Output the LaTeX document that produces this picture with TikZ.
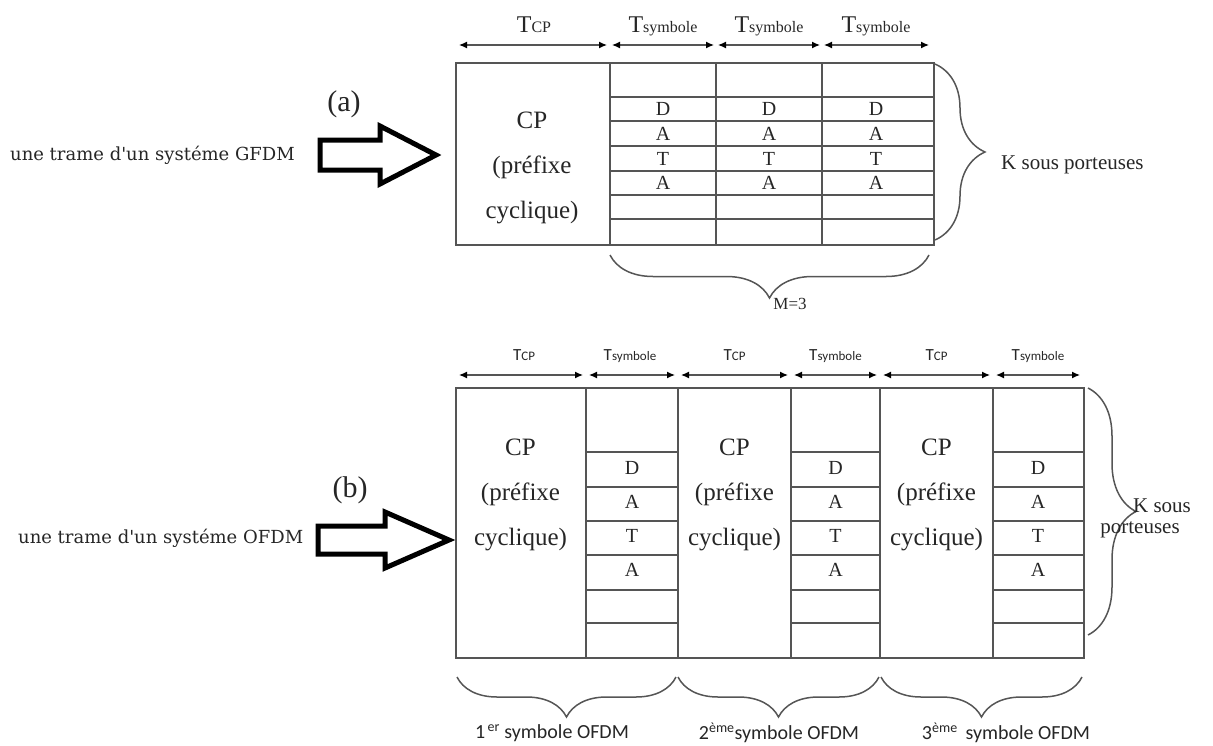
\documentclass[tikz,border=0pt]{standalone}
\usepackage{fontspec}
\setmainfont{Liberation Serif}
\newfontfamily\calfont{Carlito}
\newfontfamily\djfont{DejaVu Serif}
\usetikzlibrary{decorations.pathreplacing,arrows.meta}
\definecolor{ln}{HTML}{555555}
\definecolor{tx}{HTML}{262626}
\newcommand{\fs}[1]{\fontsize{#1}{#1}\selectfont}
\newcommand{\cpfont}{\fontsize{25}{45}\selectfont}
\newcommand{\TsubA}[1]{{\fs{24}T}{\fs{16}#1}}
\newcommand{\TsubB}[1]{{\fs{17}T}{\fs{13}#1}}
\begin{document}
\begin{tikzpicture}[x=1pt,y=-1pt,
  grid/.style={draw=ln, line width=1.6pt},
  dimarrow/.style={draw=ln, line width=1.3pt,
    {Latex[length=8pt,width=7pt,color=black]}-{Latex[length=8pt,width=7pt,color=black]}},
  brc/.style={draw=ln, line width=1.5pt, decorate, decoration={brace, amplitude=#1}},
  blockarrow/.style={draw=black, line width=5pt, line join=miter, fill=white},
  cptext/.style={align=center, text=tx, font=\cpfont, inner sep=0pt},
  letter/.style={text=tx, font=\fs{20}, inner sep=0pt},
  lbl/.style={text=tx, inner sep=0pt},
  every node/.style={text=tx}
]
\useasboundingbox (0,0) rectangle (1213,745);

% ================= (a) GFDM =================
\node[lbl, font=\djfont\fs{18}, anchor=west] (txtA) at (10,155) {une trame d'un systéme GFDM};
\node[lbl, font=\fs{30}] (labA) at (344,104) {(a)};
\draw[blockarrow] (320,140) -- (380,140) -- (380,126) -- (436,155) -- (380,184) -- (380,170) -- (320,170) -- cycle;

\node[grid, anchor=north west, minimum width=478pt, minimum height=182pt, inner sep=0pt] (frameA) at (455,62) {};
\foreach \x in {610,716,822} \draw[grid] (\x,62) -- (\x,244);
\foreach \y in {97,121,146,171,195,219} \draw[grid] (610,\y) -- (933,\y);

\node[cptext] (cpA) at (532,168) {CP\\(préfixe\\cyclique)};

\foreach \cx/\n in {663/1,769/2,876/3}{
  \node[letter] (dA\n) at (\cx,109) {D};
  \node[letter] (aA\n) at (\cx,133.5) {A};
  \node[letter] (tA\n) at (\cx,158.5) {T};
  \node[letter] (bA\n) at (\cx,183) {A};
}

% dimension arrows (a)
\coordinate (a0) at (459,45);
\coordinate (a1l) at (607,45);
\coordinate (a1r) at (612,45);
\coordinate (a2l) at (714,45);
\coordinate (a2r) at (718,45);
\coordinate (a3l) at (820,45);
\coordinate (a3r) at (824,45);
\coordinate (a4) at (929,45);
\draw[dimarrow] (a0) -- (a1l);
\draw[dimarrow] (a1r) -- (a2l);
\draw[dimarrow] (a2r) -- (a3l);
\draw[dimarrow] (a3r) -- (a4);
\node[lbl, anchor=base] (tcpA) at (534,32) {\TsubA{CP}};
\node[lbl, anchor=base] (ts1A) at (663,32) {\TsubA{symbole}};
\node[lbl, anchor=base] (ts2A) at (769,32) {\TsubA{symbole}};
\node[lbl, anchor=base] (ts3A) at (876,32) {\TsubA{symbole}};

% braces (a)
\coordinate (rbA1) at (935,64);
\coordinate (rbA2) at (935,240);
\draw[brc=50] (rbA1) -- (rbA2);
\node[lbl, font=\fs{21}, anchor=west] (kA) at (1001,165) {K sous porteuses};
\coordinate (bbA1) at (929,255);
\coordinate (bbA2) at (610,255);
\draw[brc=43] (bbA1) -- (bbA2);
\node[lbl, font=\fs{17}] (mA) at (790,304) {M=3};

% ================= (b) OFDM =================
\node[lbl, font=\djfont\fs{18}, anchor=west] (txtB) at (18,538) {une trame d'un systéme OFDM};
\node[lbl, font=\fs{30}] (labB) at (350,490) {(b)};
\draw[blockarrow] (318,526) -- (385,526) -- (385,512) -- (449,540) -- (385,568) -- (385,554) -- (318,554) -- cycle;

\node[grid, anchor=north west, minimum width=628pt, minimum height=270pt, inner sep=0pt] (frameB) at (455,387) {};
\foreach \x in {586,678,791,880,993} \draw[grid] (\x,387) -- (\x,657);
\foreach \xa/\xb in {586/678,791/880,993/1083}{
  \foreach \y in {452,487,521,555,590,623} \draw[grid] (\xa,\y) -- (\xb,\y);
}
\node[cptext] (cpB1) at (520.5,495) {CP\\(préfixe\\cyclique)};
\node[cptext] (cpB2) at (734.5,495) {CP\\(préfixe\\cyclique)};
\node[cptext] (cpB3) at (936.5,495) {CP\\(préfixe\\cyclique)};

\foreach \cx/\n in {632/1,835.5/2,1038/3}{
  \node[letter] (dB\n) at (\cx,468) {D};
  \node[letter] (aB\n) at (\cx,502) {A};
  \node[letter] (tB\n) at (\cx,536) {T};
  \node[letter] (bB\n) at (\cx,570) {A};
}

% dimension arrows (b)
\coordinate (b0) at (459,375);
\coordinate (b1l) at (583,375);
\coordinate (b1r) at (589,375);
\coordinate (b2l) at (675,375);
\coordinate (b2r) at (681,375);
\coordinate (b3l) at (788,375);
\coordinate (b3r) at (794,375);
\coordinate (b4l) at (877,375);
\coordinate (b4r) at (883,375);
\coordinate (b5l) at (990,375);
\coordinate (b5r) at (996,375);
\coordinate (b6) at (1080,375);
\draw[dimarrow] (b0) -- (b1l);
\draw[dimarrow] (b1r) -- (b2l);
\draw[dimarrow] (b2r) -- (b3l);
\draw[dimarrow] (b3r) -- (b4l);
\draw[dimarrow] (b4r) -- (b5l);
\draw[dimarrow] (b5r) -- (b6);
\node[lbl, font=\calfont, anchor=base] (tcpB1) at (524,360) {\TsubB{CP}};
\node[lbl, font=\calfont, anchor=base] (tsB1) at (630,360) {\TsubB{symbole}};
\node[lbl, font=\calfont, anchor=base] (tcpB2) at (734.5,360) {\TsubB{CP}};
\node[lbl, font=\calfont, anchor=base] (tsB2) at (835.5,360) {\TsubB{symbole}};
\node[lbl, font=\calfont, anchor=base] (tcpB3) at (936.5,360) {\TsubB{CP}};
\node[lbl, font=\calfont, anchor=base] (tsB3) at (1038,360) {\TsubB{symbole}};

% braces (b)
\coordinate (rbB1) at (1088,388);
\coordinate (rbB2) at (1088,635);
\draw[brc=48] (rbB1) -- (rbB2);
\node[lbl, font=\fs{21}, align=center] (kB) at (1140,518) {\hspace*{44pt}K sous\\porteuses};

\coordinate (bb1a) at (676,677);
\coordinate (bb1b) at (457,677);
\coordinate (bb2a) at (879,677);
\coordinate (bb2b) at (678,677);
\coordinate (bb3a) at (1082,677);
\coordinate (bb3b) at (881,677);
\draw[brc=40] (bb1a) -- (bb1b);
\draw[brc=40] (bb2a) -- (bb2b);
\draw[brc=40] (bb3a) -- (bb3b);
\node[lbl, font=\calfont\fs{20}] (s1) at (552,733) {1\textsuperscript{\,er} symbole OFDM};
\node[lbl, font=\calfont\fs{20}] (s2) at (779,733) {2\textsuperscript{ème}symbole OFDM};
\node[lbl, font=\calfont\fs{20}] (s3) at (1006,733) {3\textsuperscript{ème}\ \,symbole OFDM};
\end{tikzpicture}
\end{document}
